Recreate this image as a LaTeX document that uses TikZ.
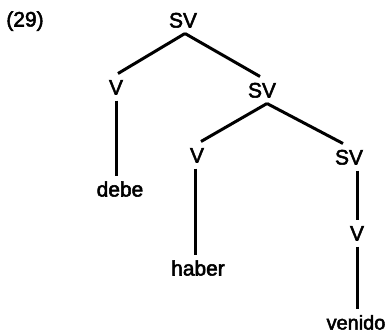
\documentclass[tikz,border=0pt]{standalone}
\usepackage{fontspec}
\newfontfamily\treefont{Liberation Sans}[FakeBold=2.5]
\begin{document}
\begin{tikzpicture}[x=1bp,y=-1bp,
  cat/.style={font=\fontsize{21}{21}\treefont, inner sep=0pt, outer sep=6bp,
              text height=15bp, text depth=0bp},
  branch/.style={line width=3bp}]
  % page frame
  \fill[white] (0,0) rectangle (390,334);
  \useasboundingbox (0,0) rectangle (390,334);

  % example number
  \node[cat] (num) at (25,19) {(29)};

  % tree nodes
  \node[cat] (sv1) at (183,20)  {SV};
  \node[cat] (v1)  at (116,87)  {V};
  \node[cat] (sv2) at (262,90)  {SV};
  \node[cat] (debe) at (120,189) {debe};
  \node[cat] (v2)  at (197,155) {V};
  \node[cat] (sv3) at (349,157) {SV};
  \node[cat] (haber) at (198,268) {haber};
  \node[cat] (v3)  at (357,233) {V};
  \node[cat, font=\fontsize{20}{20}\treefont] (venido) at (356,322) {venido};

  % branches
  \draw[branch] ([xshift=2bp]sv1.south) -- ([xshift=2bp]v1.north);
  \draw[branch] ([xshift=2bp]sv1.south) -- ([xshift=-2bp]sv2.north);
  \draw[branch] (v1.south) -- (v1.south |- debe.north);
  \draw[branch] ([xshift=5bp]sv2.south) -- ([xshift=4bp]v2.north);
  \draw[branch] ([xshift=5bp]sv2.south) -- ([xshift=-6bp]sv3.north);
  \draw[branch] ([xshift=-2bp]v2.south) -- ([xshift=-2bp]v2.south |- haber.north);
  \draw[branch] (v3 |- sv3.south) -- (v3.north);
  \draw[branch] (v3.south) -- (v3.south |- venido.north);
\end{tikzpicture}
\end{document}
